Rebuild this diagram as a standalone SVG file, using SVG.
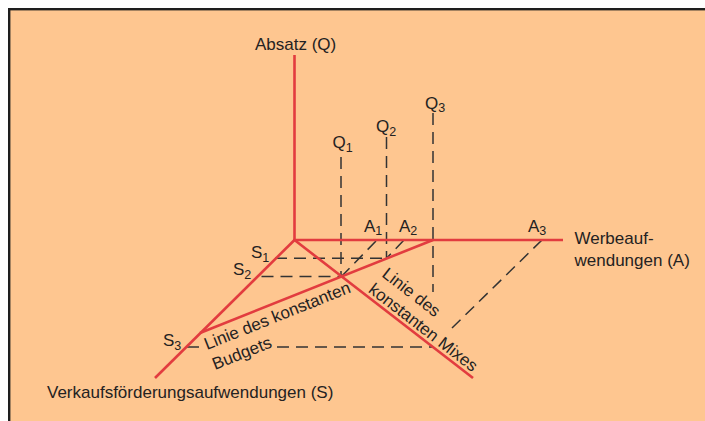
<svg xmlns="http://www.w3.org/2000/svg" width="705" height="421" viewBox="0 0 705 421">
<style>
.t{font-family:"Liberation Sans",Arial,sans-serif;font-size:17px;fill:#242222}
.s{font-size:12.5px}
.red{stroke:#e23c3f;stroke-width:2.6;fill:none;stroke-linecap:butt}
.dash{stroke:#333;stroke-width:1.5;fill:none;stroke-dasharray:12 7}
</style>
<rect x="0" y="0" width="705" height="421" fill="#ffffff"/>
<rect id="frame" x="9.2" y="9.2" width="720" height="430" fill="#fec690" stroke="#1e1e1e" stroke-width="2.4"/>
<g id="guides">
<line class="dash" x1="341" y1="157" x2="341" y2="277"/>
<line class="dash" x1="386.5" y1="137" x2="386.5" y2="258.3"/>
<line class="dash" x1="433" y1="113" x2="433" y2="292"/>
<line class="dash" x1="275" y1="258.3" x2="386.5" y2="258.3"/>
<line class="dash" x1="261.5" y1="276.5" x2="341" y2="276.5"/>
<line class="dash" x1="187" y1="347" x2="200" y2="347"/>
<line class="dash" x1="277" y1="347" x2="433" y2="347"/>
<line class="dash" x1="376" y1="241" x2="341" y2="277"/>
<line class="dash" x1="404" y1="240" x2="386.5" y2="258.3"/>
<line class="dash" x1="542" y1="240" x2="452" y2="328"/>
</g>
<g id="connectors">
<line class="red" x1="294.5" y1="55" x2="294.5" y2="240"/>
<line class="red" x1="293.3" y1="240" x2="563" y2="240"/>
<line class="red" x1="294.5" y1="240" x2="155" y2="378"/>
<line class="red" x1="294.5" y1="240" x2="473" y2="378"/>
<line class="red" x1="433" y1="240" x2="200" y2="333"/>
</g>
<g id="axis-labels">
<text class="t" x="255" y="49.5">Absatz (Q)</text>
<text class="t" x="574.5" y="244">Werbeauf-</text>
<text class="t" x="574.5" y="265.5">wendungen (A)</text>
<text class="t" x="47" y="398">Verkaufsförderungsaufwendungen (S)</text>
</g>
<g id="point-labels">
<text class="t" x="332.5" y="148">Q<tspan class="s" dy="3.5">1</tspan></text>
<text class="t" x="376" y="132">Q<tspan class="s" dy="3.5">2</tspan></text>
<text class="t" x="425" y="108.5">Q<tspan class="s" dy="3.5">3</tspan></text>
<text class="t" x="364" y="231.5">A<tspan class="s" dy="3.5">1</tspan></text>
<text class="t" x="399" y="231.5">A<tspan class="s" dy="3.5">2</tspan></text>
<text class="t" x="528" y="231.5">A<tspan class="s" dy="3.5">3</tspan></text>
<text class="t" x="251" y="258">S<tspan class="s" dy="3.5">1</tspan></text>
<text class="t" x="233" y="275">S<tspan class="s" dy="3.5">2</tspan></text>
<text class="t" x="163" y="346">S<tspan class="s" dy="3.5">3</tspan></text>
</g>
<g id="line-labels">
<text class="t" transform="translate(207,350) rotate(-21.8)">Linie des konstanten</text>
<text class="t" transform="translate(215,370) rotate(-21.8)">Budgets</text>
<text class="t" transform="translate(381,276) rotate(37.7)">Linie des</text>
<text class="t" transform="translate(367.5,291.5) rotate(37.7)">konstanten Mixes</text>
</g>
</svg>
